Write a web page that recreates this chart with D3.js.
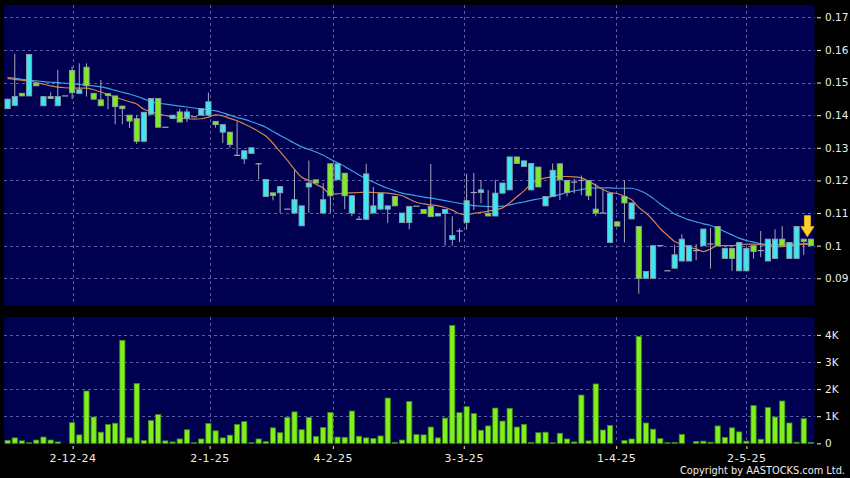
<!DOCTYPE html>
<html><head><meta charset="utf-8">
<script src="https://cdn.jsdelivr.net/npm/d3@7"></script>
<style>html,body{margin:0;padding:0;background:#000;}svg{display:block;}</style>
</head><body>
<svg id="chart" width="850" height="478"></svg>
<script>
// ---------- data ----------
const opens = [.1420,.1430,.1467,.1459,.1498,.1429,.1457,.1429,.1459,.1537,
.1467,.1547,.1467,.1447,.1466,.1459,.1428,.1400,.1389,.1320,
.1403,.1451,.1363,.1390,.1410,.1391,.1395,.1400,.1400,.1381,
.1348,.1348,.1277,.1266,.1283,.1251,.1151,.1162,.1162,.1112,
.1100,.1061,.1180,.1202,.1100,.1251,.1202,.1222,.1100,.1081,
.1081,.1100,.1112,.1112,.1151,.1071,.1071,.1121,.1111,.1120,
.1091,.1099,.1019,.1045,.1071,.1163,.1163,.1099,.1091,.1161,
.1171,.1272,.1243,.1171,.1241,.1122,.1151,.1251,.1200,.1195,
.1200,.1200,.1112,.1100,.1010,.1073,.1151,.1082,.1059,.0900,
.0900,.1000,.0923,.0931,.0953,.0953,.0985,.1000,.1005,.1059,
.0961,.0992,.0923,.0923,.1000,.0985,.0953,.0961,.1020,.0961,
.0961,.1020,.1020];
const closes = [.1449,.1457,.1459,.1586,.1490,.1457,.1451,.1457,.1459,.1469,
.1478,.1490,.1449,.1429,.1460,.1426,.1420,.1382,.1320,.1409,
.1451,.1363,.1363,.1400,.1379,.1410,.1395,.1420,.1441,.1371,
.1371,.1310,.1277,.1291,.1300,.1251,.1203,.1154,.1181,.1112,
.1141,.1122,.1192,.1192,.1141,.1153,.1251,.1153,.1153,.1081,
.1220,.1122,.1161,.1122,.1122,.1100,.1120,.1121,.1099,.1089,
.1099,.1111,.1031,.1045,.1138,.1163,.1171,.1091,.1161,.1192,
.1272,.1252,.1260,.1252,.1180,.1151,.1231,.1202,.1163,.1195,
.1200,.1153,.1100,.1100,.1161,.1060,.1131,.1131,.0900,.0921,
.1000,.1000,.0923,.0972,.1020,.1000,.0985,.1051,.1005,.1000,
.0992,.0961,.1010,.0992,.0982,.0985,.1020,.1020,.1000,.1010,
.1059,.1013,.1000];
const highs = [.1449,.1588,.1467,.1586,.1498,.1457,.1470,.1539,.1459,.1549,
.1559,.1559,.1467,.1508,.1466,.1459,.1428,.1400,.1400,.1409,
.1451,.1451,.1363,.1400,.1420,.1420,.1395,.1420,.1469,.1381,
.1371,.1348,.1381,.1291,.1300,.1251,.1203,.1162,.1181,.1112,
.1233,.1122,.1261,.1202,.1192,.1251,.1251,.1222,.1153,.1091,
.1251,.1180,.1161,.1122,.1151,.1100,.1120,.1121,.1111,.1250,
.1099,.1111,.1090,.1053,.1220,.1223,.1202,.1171,.1202,.1192,
.1272,.1272,.1260,.1252,.1241,.1151,.1252,.1251,.1200,.1205,
.1215,.1200,.1190,.1171,.1161,.1073,.1200,.1131,.1059,.0921,
.1000,.1000,.0923,.1003,.1035,.1000,.1005,.1051,.1055,.1059,
.0992,.0992,.1010,.0992,.1000,.1045,.1020,.1050,.1060,.1010,
.1059,.1020,.1020];
const lows = [.1420,.1429,.1459,.1459,.1490,.1429,.1451,.1429,.1459,.1449,
.1467,.1457,.1449,.1429,.1418,.1372,.1372,.1361,.1312,.1320,
.1403,.1363,.1363,.1390,.1379,.1379,.1395,.1400,.1400,.1362,
.1315,.1300,.1275,.1251,.1283,.1203,.1151,.1139,.1100,.1112,
.1100,.1061,.1100,.1192,.1100,.1100,.1202,.1112,.1090,.1081,
.1081,.1100,.1112,.1070,.1122,.1071,.1050,.1121,.1099,.1089,
.1091,.1000,.1000,.1011,.1049,.1109,.1130,.1091,.1091,.1161,
.1171,.1252,.1243,.1171,.1180,.1122,.1151,.1140,.1151,.1160,
.1155,.1140,.1090,.1100,.1010,.1060,.1010,.1082,.0853,.0900,
.0900,.1000,.0923,.0931,.0953,.0953,.0955,.1000,.0930,.1000,
.0961,.0923,.0923,.0923,.0960,.0965,.0953,.0961,.1000,.0961,
.0961,.0972,.1000];
// volume in thousands
const volumes = [0.11,0.20,0.09,0.02,0.12,0.23,0.12,0.05,0,0.76,
0.31,1.93,0.97,0.41,0.69,0.74,3.80,0.20,2.21,0.10,
0.84,1.06,0.09,0.05,0.16,0.50,0.02,0.16,0.73,0.46,
0.20,0.30,0.69,0.80,0.02,0.16,0.06,0.57,0.39,0.95,
1.16,0.50,0.95,0.25,0.58,1.14,0.23,0.22,1.19,0.26,
0.20,0.18,0.27,1.67,0.03,0.12,1.54,0.32,0.31,0.60,
0.20,0.93,4.35,1.13,1.35,1.10,0.48,0.64,1.30,0.82,
1.29,0.60,0.70,0.03,0.39,0.41,0.02,0.37,0.16,0.05,
1.78,0.09,2.19,0.49,0.66,0,0.10,0.16,3.94,0.75,
0.52,0.17,0.02,0.03,0.33,0,0.07,0.08,0.04,0.64,
0.22,0.57,0.42,0.08,1.39,0.15,1.32,0.97,1.56,0.75,
0.04,0.91,0.03];
// moving averages (one value per candle)
const ma10 = [.1512,.1510,.1507,.1504,.1500,.1495,.1490,.1486,.1484,.1483,
.1483,.1483,.1478,.1471,.1463,.1455,.1448,.1441,.1434,.1418,
.1411,.1404,.1399,.1395,.1391,.1389,.1388,.1389,.1394,.1401,
.1398,.1390,.1383,.1373,.1362,.1350,.1336,.1314,.1288,.1262,
.1234,.1210,.1200,.1188,.1177,.1158,.1159,.1161,.1162,.1163,
.1164,.1163,.1162,.1161,.1158,.1153,.1143,.1133,.1128,.1125,
.1122,.1117,.1109,.1098,.1095,.1099,.1102,.1106,.1110,.1116,
.1131,.1150,.1168,.1190,.1202,.1208,.1211,.1212,.1212,.1211,
.1208,.1198,.1185,.1172,.1163,.1160,.1151,.1141,.1117,.1100,
.1078,.1052,.1032,.1013,.1004,.0995,.0990,.0982,.0990,.1000,
.1000,.1000,.1003,.1005,.1005,.1003,.1000,.0997,.0997,.0999,
.1003,.1004,.1005];
const ma20 = [.1515,.1513,.1510,.1507,.1505,.1503,.1501,.1500,.1498,.1496,
.1494,.1492,.1490,.1487,.1482,.1476,.1470,.1465,.1458,.1450,
.1441,.1437,.1434,.1431,.1428,.1425,.1422,.1419,.1416,.1413,
.1407,.1400,.1393,.1387,.1380,.1372,.1363,.1350,.1338,.1326,
.1314,.1303,.1295,.1287,.1277,.1265,.1254,.1243,.1230,.1217,
.1205,.1195,.1185,.1176,.1168,.1161,.1157,.1153,.1149,.1146,
.1142,.1138,.1134,.1130,.1126,.1123,.1121,.1120,.1120,.1121,
.1125,.1130,.1134,.1139,.1143,.1147,.1151,.1157,.1163,.1168,
.1172,.1176,.1177,.1177,.1177,.1176,.1176,.1176,.1170,.1160,
.1145,.1128,.1113,.1097,.1088,.1079,.1073,.1067,.1062,.1053,
.1043,.1033,.1023,.1016,.1011,.1006,.1003,.1003,.1003,.1004,
.1005,.1006,.1007];
const priceTicks = [0.09,0.10,0.11,0.12,0.13,0.14,0.15,0.16,0.17];
const volTicks = [0,1,2,3,4];
const volTickLabels = ["0","1K","2K","3K","4K"];
const xTickLabels = ["2-12-24","2-1-25","4-2-25","3-3-25","1-4-25","2-5-25"];
const xTickAt = [10.07,29.17,46.35,64.6,85.85,104.0]; // candle positions (1-based)

// ---------- drawing ----------
const n = closes.length;
const svg = d3.select("#chart");
const FONT = "DejaVu Sans, Verdana, sans-serif";
const C_UP = "#3ee6f2", C_DN = "#80ec1e", C_WICK = "#a4a8b4", C_BORDER = "#8fa0a8";
const C_BG = "#000050", C_GRID = "#5c5ca6", C_TEXT = "#ececec";

const x = d3.scaleLinear().domain([0.5, n + 0.5]).range([4, 814.5]);
const yP = d3.scaleLinear().domain([0.08182, 0.17377]).range([305, 5]);
const yV = d3.scaleLinear().domain([0, 4.66]).range([443.3, 317]);
const idx = d3.range(1, n + 1);

svg.append("rect").attr("width", 850).attr("height", 478).attr("fill", "#000");
// panels
[[yP], [yV]].forEach(([ys]) => {
  const r = ys.range();
  svg.append("rect").attr("x", x.range()[0]).attr("y", r[1])
    .attr("width", x.range()[1] - x.range()[0]).attr("height", r[0] - r[1] + 0.7)
    .attr("fill", C_BG);
});

// grids
const grid = svg.append("g").attr("stroke", C_GRID).attr("stroke-width", 1)
  .attr("stroke-dasharray", "3,3").attr("shape-rendering", "crispEdges");
grid.selectAll(".hp").data(priceTicks).join("line")
  .attr("x1", x.range()[0]).attr("x2", x.range()[1])
  .attr("y1", d => Math.round(yP(d)) + 0.5).attr("y2", d => Math.round(yP(d)) + 0.5);
grid.selectAll(".hv").data(volTicks.slice(1)).join("line")
  .attr("x1", x.range()[0]).attr("x2", x.range()[1])
  .attr("y1", d => Math.round(yV(d)) + 0.5).attr("y2", d => Math.round(yV(d)) + 0.5);
[yP, yV].forEach(ys => {
  grid.append("g").selectAll("line").data(xTickAt).join("line")
    .attr("x1", d => Math.round(x(d)) + 0.5).attr("x2", d => Math.round(x(d)) + 0.5)
    .attr("y1", ys.range()[1]).attr("y2", ys.range()[0]);
});

// moving averages
const line = arr => d3.line().x((d, i) => x(i + 1)).y(d => yP(d)).curve(d3.curveMonotoneX)(arr);
svg.append("path").attr("d", line(ma20)).attr("fill", "none").attr("stroke", "#3d9fe6").attr("stroke-width", 1.2);
svg.append("path").attr("d", line(ma10)).attr("fill", "none").attr("stroke", "#d2824c").attr("stroke-width", 1.2);

// candles
const bw = 5.2;
const cg = svg.append("g");
cg.selectAll(".wick").data(idx).join("line")
  .attr("x1", i => x(i)).attr("x2", i => x(i))
  .attr("y1", i => yP(highs[i - 1])).attr("y2", i => yP(lows[i - 1]))
  .attr("stroke", C_WICK).attr("stroke-width", 1);
cg.selectAll(".body").data(idx.filter(i => opens[i - 1] !== closes[i - 1])).join("rect")
  .attr("x", i => x(i) - bw / 2)
  .attr("y", i => yP(Math.max(opens[i - 1], closes[i - 1])))
  .attr("width", bw)
  .attr("height", i => Math.max(1, Math.abs(yP(opens[i - 1]) - yP(closes[i - 1]))))
  .attr("fill", i => closes[i - 1] > opens[i - 1] ? C_UP : C_DN)
  .attr("stroke", C_BORDER).attr("stroke-width", 0.9);
cg.selectAll(".doji").data(idx.filter(i => opens[i - 1] === closes[i - 1])).join("line")
  .attr("x1", i => x(i) - bw / 2 - 0.5).attr("x2", i => x(i) + bw / 2 + 0.5)
  .attr("y1", i => yP(closes[i - 1])).attr("y2", i => yP(closes[i - 1]))
  .attr("stroke", C_WICK).attr("stroke-width", 1.2);

// volume bars
svg.append("g").selectAll("rect").data(idx).join("rect")
  .attr("x", i => x(i) - bw / 2)
  .attr("y", i => yV(volumes[i - 1]))
  .attr("width", bw)
  .attr("height", i => yV(0) - yV(volumes[i - 1]))
  .attr("fill", "#7ff01c").attr("stroke", "#3f8a18").attr("stroke-width", 0.8)
  .attr("opacity", i => volumes[i - 1] > 0 ? 1 : 0);

// last-price arrow
const ax = x(n) - 3.5, tip = yP(highs[n - 1]) - 2.5;
svg.append("path")
  .attr("d", `M${ax - 3},${tip - 21} L${ax + 3},${tip - 21} L${ax + 3},${tip - 10} L${ax + 6.5},${tip - 10} L${ax},${tip} L${ax - 6.5},${tip - 10} L${ax - 3},${tip - 10} Z`)
  .attr("fill", "#fbd12c").attr("stroke", "#e8a41c").attr("stroke-width", 1);

// axes
function styleAxis(g) {
  g.select(".domain").remove();
  g.selectAll(".tick line").attr("stroke", C_TEXT);
  g.selectAll(".tick text").attr("fill", C_TEXT).attr("font-family", FONT);
}
svg.append("g").attr("transform", "translate(817,0)")
  .call(d3.axisRight(yP).tickValues(priceTicks).tickSize(4).tickPadding(4).tickFormat(d3.format("")))
  .call(styleAxis).selectAll("text").attr("font-size", 10.5);
svg.append("g").attr("transform", "translate(817,0)")
  .call(d3.axisRight(yV).tickValues(volTicks).tickSize(4).tickPadding(4).tickFormat((d, i) => volTickLabels[i]))
  .call(styleAxis).selectAll("text").attr("font-size", 10.5);
svg.append("g").attr("transform", "translate(0,446)")
  .call(d3.axisBottom(x).tickValues(xTickAt).tickSize(3).tickPadding(5).tickFormat((d, i) => xTickLabels[i]))
  .call(styleAxis).selectAll("text").attr("font-size", 11).attr("letter-spacing", "0.6px");

svg.append("text").attr("x", 845).attr("y", 474).attr("text-anchor", "end")
  .attr("fill", C_TEXT).attr("font-family", FONT).attr("font-size", 9.8)
  .text("Copyright by AASTOCKS.com Ltd.");
</script>
</body></html>
